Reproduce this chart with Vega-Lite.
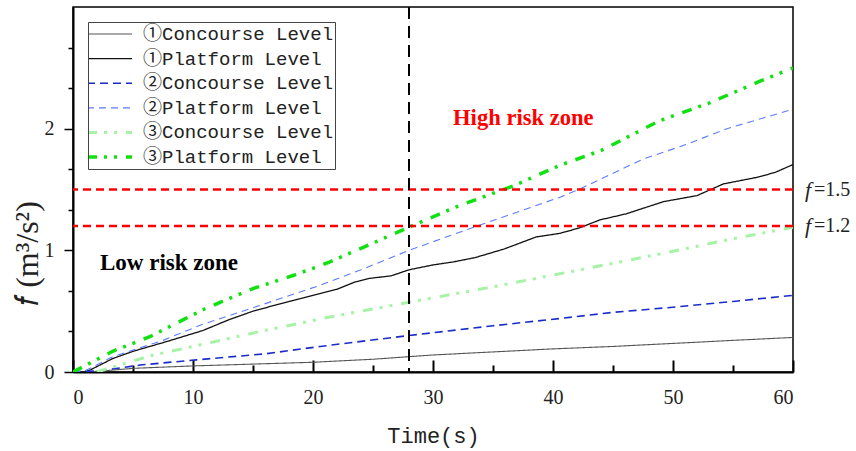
{
  "$schema": "https://vega.github.io/schema/vega-lite/v6.json",
  "width": 720,
  "height": 365,
  "autosize": {"type": "none"},
  "padding": {"left": 73, "top": 7, "right": 63, "bottom": 79},
  "background": "white",
  "config": {
    "view": {"stroke": "black", "strokeWidth": 1.5},
    "font": "Liberation Serif",
    "axis": {"grid": false, "domainColor": "black", "domainWidth": 2, "tickColor": "black"}
  },
  "datasets": {
    "lines": [
      {"s": "①Concourse Level", "t": 0, "f": 0},
      {"s": "①Concourse Level", "t": 2, "f": 0.005},
      {"s": "①Concourse Level", "t": 5, "f": 0.03},
      {"s": "①Concourse Level", "t": 10, "f": 0.05},
      {"s": "①Concourse Level", "t": 15, "f": 0.065},
      {"s": "①Concourse Level", "t": 20, "f": 0.08},
      {"s": "①Concourse Level", "t": 25, "f": 0.105},
      {"s": "①Concourse Level", "t": 30, "f": 0.14},
      {"s": "①Concourse Level", "t": 35, "f": 0.165},
      {"s": "①Concourse Level", "t": 40, "f": 0.19},
      {"s": "①Concourse Level", "t": 45, "f": 0.21},
      {"s": "①Concourse Level", "t": 50, "f": 0.235},
      {"s": "①Concourse Level", "t": 55, "f": 0.26},
      {"s": "①Concourse Level", "t": 60, "f": 0.284},
      {"s": "①Platform Level", "t": 0, "f": 0},
      {"s": "①Platform Level", "t": 1, "f": 0},
      {"s": "①Platform Level", "t": 1.5, "f": 0.02},
      {"s": "①Platform Level", "t": 3.3, "f": 0.11},
      {"s": "①Platform Level", "t": 5, "f": 0.17},
      {"s": "①Platform Level", "t": 7.8, "f": 0.25},
      {"s": "①Platform Level", "t": 10.8, "f": 0.34},
      {"s": "①Platform Level", "t": 13, "f": 0.43},
      {"s": "①Platform Level", "t": 15, "f": 0.5},
      {"s": "①Platform Level", "t": 18, "f": 0.58},
      {"s": "①Platform Level", "t": 20.6, "f": 0.645},
      {"s": "①Platform Level", "t": 22, "f": 0.68},
      {"s": "①Platform Level", "t": 23.5, "f": 0.74},
      {"s": "①Platform Level", "t": 24.75, "f": 0.77},
      {"s": "①Platform Level", "t": 26.5, "f": 0.79},
      {"s": "①Platform Level", "t": 28, "f": 0.84},
      {"s": "①Platform Level", "t": 30, "f": 0.88},
      {"s": "①Platform Level", "t": 31.7, "f": 0.905},
      {"s": "①Platform Level", "t": 33.5, "f": 0.94},
      {"s": "①Platform Level", "t": 35.9, "f": 1.01},
      {"s": "①Platform Level", "t": 38.6, "f": 1.11},
      {"s": "①Platform Level", "t": 40.6, "f": 1.14},
      {"s": "①Platform Level", "t": 42.25, "f": 1.186},
      {"s": "①Platform Level", "t": 43.9, "f": 1.25},
      {"s": "①Platform Level", "t": 46.1, "f": 1.3},
      {"s": "①Platform Level", "t": 49.2, "f": 1.4},
      {"s": "①Platform Level", "t": 52, "f": 1.45},
      {"s": "①Platform Level", "t": 54.2, "f": 1.546},
      {"s": "①Platform Level", "t": 57, "f": 1.6},
      {"s": "①Platform Level", "t": 58.5, "f": 1.64},
      {"s": "①Platform Level", "t": 60, "f": 1.705},
      {"s": "②Concourse Level", "t": 0, "f": 0},
      {"s": "②Concourse Level", "t": 2.2, "f": 0.01},
      {"s": "②Concourse Level", "t": 5.6, "f": 0.057},
      {"s": "②Concourse Level", "t": 10.3, "f": 0.1},
      {"s": "②Concourse Level", "t": 16.1, "f": 0.15},
      {"s": "②Concourse Level", "t": 20.6, "f": 0.21},
      {"s": "②Concourse Level", "t": 28, "f": 0.3},
      {"s": "②Concourse Level", "t": 35, "f": 0.38},
      {"s": "②Concourse Level", "t": 40.6, "f": 0.44},
      {"s": "②Concourse Level", "t": 45, "f": 0.49},
      {"s": "②Concourse Level", "t": 50.3, "f": 0.535},
      {"s": "②Concourse Level", "t": 55, "f": 0.58},
      {"s": "②Concourse Level", "t": 60, "f": 0.63},
      {"s": "②Platform Level", "t": 0, "f": 0},
      {"s": "②Platform Level", "t": 1, "f": 0.01},
      {"s": "②Platform Level", "t": 3.3, "f": 0.125},
      {"s": "②Platform Level", "t": 7.5, "f": 0.26},
      {"s": "②Platform Level", "t": 10.6, "f": 0.385},
      {"s": "②Platform Level", "t": 14.75, "f": 0.52},
      {"s": "②Platform Level", "t": 20.6, "f": 0.713},
      {"s": "②Platform Level", "t": 24, "f": 0.84},
      {"s": "②Platform Level", "t": 28, "f": 1.0},
      {"s": "②Platform Level", "t": 33.4, "f": 1.19},
      {"s": "②Platform Level", "t": 40.6, "f": 1.437},
      {"s": "②Platform Level", "t": 42.25, "f": 1.505},
      {"s": "②Platform Level", "t": 47.5, "f": 1.75},
      {"s": "②Platform Level", "t": 51.1, "f": 1.87},
      {"s": "②Platform Level", "t": 54.5, "f": 2.0},
      {"s": "②Platform Level", "t": 60, "f": 2.16},
      {"s": "③Concourse Level", "t": 2, "f": 0},
      {"s": "③Concourse Level", "t": 3.3, "f": 0.04},
      {"s": "③Concourse Level", "t": 6.7, "f": 0.14},
      {"s": "③Concourse Level", "t": 10, "f": 0.21},
      {"s": "③Concourse Level", "t": 16.1, "f": 0.344},
      {"s": "③Concourse Level", "t": 21.3, "f": 0.45},
      {"s": "③Concourse Level", "t": 28.9, "f": 0.59},
      {"s": "③Concourse Level", "t": 35, "f": 0.7},
      {"s": "③Concourse Level", "t": 42.25, "f": 0.84},
      {"s": "③Concourse Level", "t": 48.9, "f": 0.97},
      {"s": "③Concourse Level", "t": 55, "f": 1.095},
      {"s": "③Concourse Level", "t": 60, "f": 1.19},
      {"s": "③Platform Level", "t": 0, "f": 0},
      {"s": "③Platform Level", "t": 3.3, "f": 0.17},
      {"s": "③Platform Level", "t": 6.4, "f": 0.29},
      {"s": "③Platform Level", "t": 9.2, "f": 0.43},
      {"s": "③Platform Level", "t": 11, "f": 0.52},
      {"s": "③Platform Level", "t": 15, "f": 0.686},
      {"s": "③Platform Level", "t": 18.4, "f": 0.795},
      {"s": "③Platform Level", "t": 21.3, "f": 0.9},
      {"s": "③Platform Level", "t": 28, "f": 1.19},
      {"s": "③Platform Level", "t": 32, "f": 1.36},
      {"s": "③Platform Level", "t": 36.7, "f": 1.53},
      {"s": "③Platform Level", "t": 40.6, "f": 1.7},
      {"s": "③Platform Level", "t": 44, "f": 1.82},
      {"s": "③Platform Level", "t": 48.9, "f": 2.066},
      {"s": "③Platform Level", "t": 53, "f": 2.21},
      {"s": "③Platform Level", "t": 57.25, "f": 2.39},
      {"s": "③Platform Level", "t": 60, "f": 2.5}
    ],
    "thresholds": [{"f": 1.5, "lab": "=1.5"}, {"f": 1.2, "lab": "=1.2"}]
  },
  "layer": [
    {
      "data": {"name": "lines"},
      "mark": {"type": "line", "clip": true},
      "encoding": {
        "x": {
          "field": "t", "type": "quantitative",
          "scale": {"domain": [0, 60], "nice": false},
          "axis": {
            "title": "Time(s)",
            "titleFont": "Liberation Mono", "titleFontSize": 22, "titleFontWeight": "normal", "titleColor": "#222", "titlePadding": 18,
            "values": [0, 5, 10, 15, 20, 25, 30, 35, 40, 45, 50, 55, 60],
            "labelExpr": "datum.value % 10 == 0 ? datum.value : ''",
            "labelFont": "Liberation Serif", "labelFontSize": 20, "labelColor": "#222", "labelPadding": 27,
            "tickSize": {"condition": {"test": "datum.value % 10 == 0", "value": -12}, "value": -7},
            "tickWidth": 2
          }
        },
        "y": {
          "field": "f", "type": "quantitative",
          "scale": {"domain": [0, 3], "nice": false},
          "axis": {
            "title": "𝑓 (m³/s²)",
            "titleFont": "Liberation Serif", "titleFontSize": 32, "titleFontWeight": "normal", "titleColor": "#222", "titlePadding": 0,
            "titleY": 246,
            "values": [0, 0.16667, 0.33333, 0.5, 0.66667, 0.83333, 1, 1.16667, 1.33333, 1.5, 1.66667, 1.83333, 2, 2.16667, 2.33333, 2.5, 2.66667, 2.83333],
            "labelExpr": "datum.value == 0 || datum.value == 1 || datum.value == 2 ? datum.value : ''",
            "labelFont": "Liberation Serif", "labelFontSize": 20, "labelColor": "#222", "labelPadding": 10,
            "tickSize": {"condition": {"test": "datum.value == 0 || datum.value == 1 || datum.value == 2", "value": 9}, "value": 5},
            "tickWidth": 1.5
          }
        },
        "color": {
          "field": "s", "type": "nominal",
          "scale": {
            "domain": ["①Concourse Level", "①Platform Level", "②Concourse Level", "②Platform Level", "③Concourse Level", "③Platform Level"],
            "range": ["#555555", "#111111", "#1a2cc8", "#5b7bff", "#a6f2a6", "#11e011"]
          },
          "legend": {
            "title": null, "orient": "none", "legendX": 15, "legendY": 15,
            "strokeColor": "#444", "padding": 1, "symbolType": "stroke", "symbolSize": 2025,
            "clipHeight": 22, "rowPadding": 2.6, "labelLimit": 400, "symbolOffset": 11,
            "labelFont": "Liberation Mono, Noto Sans CJK SC", "labelFontSize": 19, "labelColor": "#222", "labelOffset": 24,
            "encode": {
              "symbols": {
                "update": {
                  "stroke": {"scale": "color", "field": "value"},
                  "strokeWidth": {"signal": "datum.value == '③Platform Level' ? 3.5 : datum.value == '③Concourse Level' ? 3 : datum.value == '②Concourse Level' ? 1.6 : 1.2"}
                }
              }
            }
          }
        },
        "strokeDash": {
          "field": "s", "type": "nominal",
          "scale": {
            "domain": ["①Concourse Level", "①Platform Level", "②Concourse Level", "②Platform Level", "③Concourse Level", "③Platform Level"],
            "range": [[1, 0], [1, 0], [8, 5], [7, 5], [10, 7, 3, 7, 3, 9], [10, 7, 3, 7, 3, 9]]
          }
        },
        "strokeWidth": {
          "condition": [
            {"test": "datum.s == '③Platform Level'", "value": 3.5},
            {"test": "datum.s == '③Concourse Level'", "value": 3},
            {"test": "datum.s == '②Concourse Level'", "value": 1.6},
            {"test": "datum.s == '①Platform Level'", "value": 1.3}
          ],
          "value": 1.1
        }
      }
    },
    {
      "data": {"name": "thresholds"},
      "mark": {"type": "rule", "color": "#ff0000", "strokeDash": [8, 5], "strokeWidth": 2.5},
      "encoding": {"y": {"field": "f", "type": "quantitative"}}
    },
    {
      "data": {"values": [{"t": 28}]},
      "mark": {"type": "rule", "color": "black", "strokeDash": [12, 7], "strokeWidth": 2},
      "encoding": {"x": {"field": "t", "type": "quantitative"}}
    },
    {
      "data": {"values": [{"t": 2.25, "f": 0.9, "label": "Low risk zone"}]},
      "mark": {"type": "text", "align": "left", "baseline": "middle", "font": "Liberation Serif", "fontWeight": "bold", "fontSize": 23, "color": "black"},
      "encoding": {"x": {"field": "t", "type": "quantitative"}, "y": {"field": "f", "type": "quantitative"}, "text": {"field": "label"}}
    },
    {
      "data": {"values": [{"t": 31.67, "f": 2.09, "label": "High risk zone"}]},
      "mark": {"type": "text", "align": "left", "baseline": "middle", "font": "Liberation Serif", "fontWeight": "bold", "fontSize": 22.6, "color": "#ff0000"},
      "encoding": {"x": {"field": "t", "type": "quantitative"}, "y": {"field": "f", "type": "quantitative"}, "text": {"field": "label"}}
    },
    {
      "data": {"name": "thresholds"},
      "mark": {"type": "text", "align": "left", "baseline": "middle", "font": "Liberation Serif", "fontStyle": "italic", "fontSize": 22, "color": "#222", "dx": 12},
      "encoding": {"x": {"datum": 60}, "y": {"field": "f", "type": "quantitative"}, "text": {"value": "f"}}
    },
    {
      "data": {"name": "thresholds"},
      "mark": {"type": "text", "align": "left", "baseline": "middle", "font": "Liberation Serif", "fontSize": 20, "color": "#222", "dx": 21},
      "encoding": {"x": {"datum": 60}, "y": {"field": "f", "type": "quantitative"}, "text": {"field": "lab"}}
    }
  ]
}
